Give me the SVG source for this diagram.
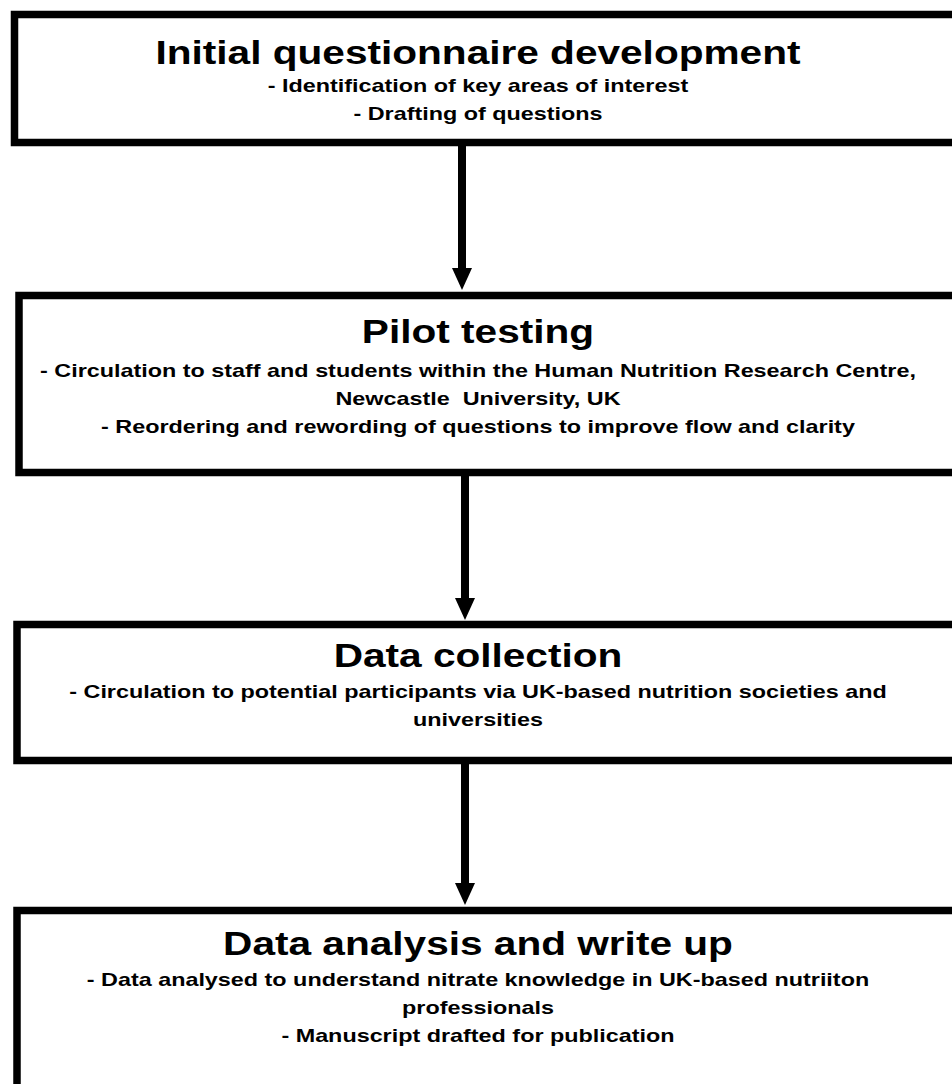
<svg xmlns="http://www.w3.org/2000/svg" width="952" height="1084" viewBox="0 0 952 1084">
<style>
.box{fill:#fff;stroke:#000;stroke-width:7.5}
.t{font-family:"Liberation Sans",Arial,sans-serif;font-weight:bold;fill:#000;text-anchor:middle}
.h{font-size:33px}
.b{font-size:19px}
.pre{white-space:pre}
.c{stroke:#000;stroke-width:8;fill:none}
</style>
<defs>
<marker id="ah" markerUnits="userSpaceOnUse" markerWidth="22" markerHeight="20" viewBox="0 0 22 20" refX="0" refY="10" orient="auto">
<path d="M0,0 L22,10 L0,20 Z" fill="#000"/>
</marker>
</defs>
<rect width="952" height="1084" fill="#fff"/>
<g id="connectors">
<line class="c" x1="462" y1="146" x2="462" y2="268" marker-end="url(#ah)"/>
<line class="c" x1="465" y1="476" x2="465" y2="598" marker-end="url(#ah)"/>
<line class="c" x1="465" y1="764" x2="465" y2="883" marker-end="url(#ah)"/>
</g>
<g id="node1">
<rect class="box" x="14.5" y="14.5" width="945" height="128"/>
<g transform="scale(1.23 1)">
<text class="t h" x="388.6" y="64">Initial questionnaire development</text>
<text class="t b" x="388.6" y="92">- Identification of key areas of interest</text>
<text class="t b" x="388.6" y="120">- Drafting of questions</text>
</g>
</g>
<g id="node2">
<rect class="box" x="19" y="295.5" width="940" height="177"/>
<g transform="scale(1.23 1)">
<text class="t h" x="388.6" y="343">Pilot testing</text>
<text class="t b" x="388.6" y="377">- Circulation to staff and students within the Human Nutrition Research Centre,</text>
<text class="t b pre" x="388.6" y="405" xml:space="preserve">Newcastle  University, UK</text>
<text class="t b" x="388.6" y="433">- Reordering and rewording of questions to improve flow and clarity</text>
</g>
</g>
<g id="node3">
<rect class="box" x="17" y="624.5" width="942" height="136"/>
<g transform="scale(1.23 1)">
<text class="t h" x="388.6" y="667">Data collection</text>
<text class="t b" x="388.6" y="698">- Circulation to potential participants via UK-based nutrition societies and</text>
<text class="t b" x="388.6" y="726">universities</text>
</g>
</g>
<g id="node4">
<rect class="box" x="17" y="910.5" width="942" height="200"/>
<g transform="scale(1.23 1)">
<text class="t h" x="388.6" y="955">Data analysis and write up</text>
<text class="t b" x="388.6" y="986">- Data analysed to understand nitrate knowledge in UK-based nutriiton</text>
<text class="t b" x="388.6" y="1014">professionals</text>
<text class="t b" x="388.6" y="1042">- Manuscript drafted for publication</text>
</g>
</g>
</svg>
